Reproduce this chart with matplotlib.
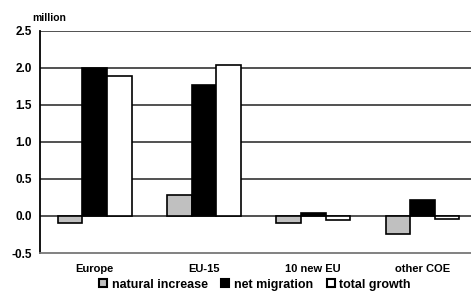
import numpy as np
import matplotlib
matplotlib.use("Agg")
import matplotlib.pyplot as plt
from matplotlib.lines import Line2D

plt.rcParams['font.family'] = ['Liberation Sans', 'DejaVu Sans']
plt.rcParams['font.weight'] = 'bold'

regions = ["Europe", "EU-15", "10 new EU", "other COE"]
natural_increase = [-0.10, 0.28, -0.09, -0.24]
net_migration = [2.00, 1.77, 0.045, 0.22]
total_growth = [1.89, 2.04, -0.06, -0.035]

series = ["natural increase", "net migration", "total growth"]
colors = ["#c0c0c0", "#000000", "#ffffff"]

fig = plt.figure(figsize=(4.71, 2.93), dpi=100)
ax = fig.add_axes([0.085, 0.1365, 0.928, 0.758])

x = np.arange(len(regions))
width = 0.225
for i, (vals, col) in enumerate(zip([natural_increase, net_migration, total_growth], colors)):
    ax.bar(x + (i - 1) * width, vals, width, color=col, edgecolor="black",
           linewidth=1.2, zorder=3)

ax.set_xlim(-0.5, 3.5)
ax.set_ylim(-0.5, 2.5)
ax.set_yticks(np.arange(-0.5, 2.51, 0.5))
ax.set_yticklabels(["%.1f" % v for v in np.arange(-0.5, 2.51, 0.5)], fontsize=8.5)
ax.set_xticks(x)
ax.set_xticklabels(regions, fontsize=8)
ax.tick_params(axis="both", length=0, pad=6)
ax.tick_params(axis="x", pad=8)
for v in np.arange(0.0, 2.51, 0.5):
    ax.axhline(v, color="#222222", linewidth=1.1, zorder=1)
ax.spines["top"].set_visible(False)
ax.spines["right"].set_visible(False)
ax.spines["left"].set_linewidth(1.3)
ax.spines["bottom"].set_color("#777777")
ax.spines["bottom"].set_linewidth(1.3)

fig.text(0.068, 0.93, "million", fontsize=7.5, fontweight="bold")

handles = [Line2D([], [], marker="s", linestyle="none", markersize=5.5,
                  markerfacecolor=c, markeredgecolor="black", markeredgewidth=1.5)
           for c in colors]
fig.legend(handles, series, loc="lower center", bbox_to_anchor=(0.54, -0.03),
           ncol=3, frameon=False, fontsize=9, handletextpad=0.3,
           columnspacing=1.0, handlelength=0.8)

fig.savefig("out.png", dpi=100)
